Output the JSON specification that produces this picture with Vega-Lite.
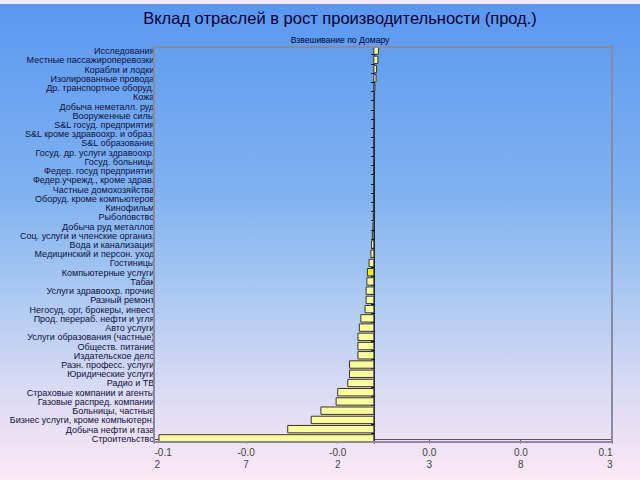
{
  "$schema": "https://vega.github.io/schema/vega-lite/v6.json",
  "width": 640,
  "height": 480,
  "autosize": {"type": "fit", "contains": "padding"},
  "padding": 0,
  "background": "#f6e6f6",
  "config": {
    "font": "Liberation Sans",
    "view": {
      "stroke": null,
      "fill": {
        "gradient": "linear", "x1": 0, "y1": 0, "x2": 0, "y2": 1,
        "stops": [
          {"offset": 0, "color": "#5a98f0"},
          {"offset": 0.4, "color": "#80b2f0"},
          {"offset": 0.6, "color": "#a8c8f2"},
          {"offset": 0.8, "color": "#d8daf4"},
          {"offset": 1, "color": "#fce8f6"}
        ]
      }
    }
  },
  "title": {
    "text": "Вклад отраслей в рост производительности (прод.)",
    "subtitle": "Взвешивание по Домару",
    "fontSize": 16.5,
    "fontWeight": "normal",
    "color": "#000033",
    "subtitleFontSize": 8.6,
    "subtitleColor": "#000033",
    "subtitlePadding": 9,
    "anchor": "middle",
    "frame": "group",
    "offset": -45,
    "dx": 20
  },
  "data": {
    "values": [
      {"sector": "Исследования", "value": 0.0025},
      {"sector": "Местные пассажироперевозки", "value": 0.0022},
      {"sector": "Корабли и лодки", "value": 0.0015},
      {"sector": "Изолированные провода", "value": 0.0012},
      {"sector": "Др. транспортное оборуд.", "value": 0.0006},
      {"sector": "Кожа", "value": 0.0004},
      {"sector": "Добыча неметалл. руд", "value": 0.0003},
      {"sector": "Вооруженные силы", "value": 0.0002},
      {"sector": "S&L госуд. предприятия", "value": 0.0001},
      {"sector": "S&L кроме здравоохр. и образ.", "value": 0.0001},
      {"sector": "S&L образование", "value": 0.0001},
      {"sector": "Госуд. др. услуги здравоохр.", "value": 0.0},
      {"sector": "Госуд. больницы", "value": 0.0},
      {"sector": "Федер. госуд предприятия", "value": -0.0001},
      {"sector": "Федер.учрежд., кроме здрав.", "value": -0.0001},
      {"sector": "Частные домохозяйства", "value": -0.0001},
      {"sector": "Оборуд. кроме компьютеров", "value": -0.0002},
      {"sector": "Кинофильм", "value": -0.0002},
      {"sector": "Рыболовство", "value": -0.0003},
      {"sector": "Добыча руд металлов", "value": -0.0005},
      {"sector": "Соц. услуги и членские организ.", "value": -0.0008},
      {"sector": "Вода и канализация", "value": -0.0013},
      {"sector": "Медицинский и персон. уход", "value": -0.0016},
      {"sector": "Гостиницы", "value": -0.0026},
      {"sector": "Компьютерные услуги", "value": -0.0035},
      {"sector": "Табак", "value": -0.0038},
      {"sector": "Услуги здравоохр. прочие", "value": -0.0042},
      {"sector": "Разный ремонт", "value": -0.0042},
      {"sector": "Негосуд. орг, брокеры, инвест", "value": -0.0048},
      {"sector": "Прод. перераб. нефти и угля", "value": -0.0071},
      {"sector": "Авто услуги", "value": -0.0079},
      {"sector": "Услуги образования (частные)", "value": -0.0087},
      {"sector": "Обществ. питание", "value": -0.0087},
      {"sector": "Издательское дело", "value": -0.0087},
      {"sector": "Разн. професс. услуги", "value": -0.0133},
      {"sector": "Юридические услуги", "value": -0.0133},
      {"sector": "Радио и ТВ", "value": -0.0142},
      {"sector": "Страховые компании и агенты", "value": -0.0197},
      {"sector": "Газовые распред. компании", "value": -0.0206},
      {"sector": "Больницы, частные", "value": -0.0289},
      {"sector": "Бизнес услуги, кроме компьютерн.", "value": -0.0342},
      {"sector": "Добыча нефти и газа", "value": -0.047},
      {"sector": "Строительство", "value": -0.1173}
    ]
  },
  "encoding": {
    "y": {
      "field": "sector",
      "type": "nominal",
      "sort": null,
      "scale": {"range": [42, 439], "paddingInner": 0.2, "paddingOuter": 0.1},
      "axis": {
        "title": null,
        "orient": "left",
        "offset": -373.8,
        "domainColor": "#000000",
        "domainWidth": 1,
        "tickColor": "#000000",
        "tickSize": 3,
        "tickBand": "extent",
        "labelPadding": 217,
        "labelFontSize": 9,
        "labelColor": "#10103a",
        "labelLimit": 158
      }
    }
  },
  "layer": [
    {
      "mark": {"type": "bar", "stroke": "#333333", "strokeWidth": 1},
      "encoding": {
        "x": {
          "field": "value",
          "type": "quantitative",
          "scale": {"domain": [-0.12, 0.13], "range": [154, 612], "nice": false, "zero": false},
          "axis": {
            "title": null,
            "values": [-0.12, -0.07, -0.02, 0.03, 0.08, 0.13],
            "format": ".2f",
            "labelExpr": "datum.value < 0 ? [slice(replace(datum.label, '−', '-'), 0, 4), slice(replace(datum.label, '−', '-'), 4)] : [slice(datum.label, 0, 3), slice(datum.label, 3)]",
            "offset": -41,
            "grid": false,
            "domainColor": "#555555",
            "tickColor": "#555555",
            "tickSize": 4,
            "labelColor": "#444444",
            "labelFontSize": 10,
            "labelPadding": 4,
            "labelLineHeight": 12
          }
        },
        "fill": {
          "condition": {"test": "datum.sector === 'Компьютерные услуги'", "value": "#eeee11"},
          "value": "#ffff99"
        }
      }
    },
    {
      "mark": {"type": "rect", "fill": null, "stroke": "#8a8aa0", "strokeWidth": 1},
      "encoding": {
        "x": {"datum": -0.12, "type": "quantitative"},
        "x2": {"datum": 0.13},
        "y": {"datum": "Исследования", "bandPosition": 0},
        "y2": {"datum": "Строительство", "bandPosition": 1}
      }
    }
  ]
}
